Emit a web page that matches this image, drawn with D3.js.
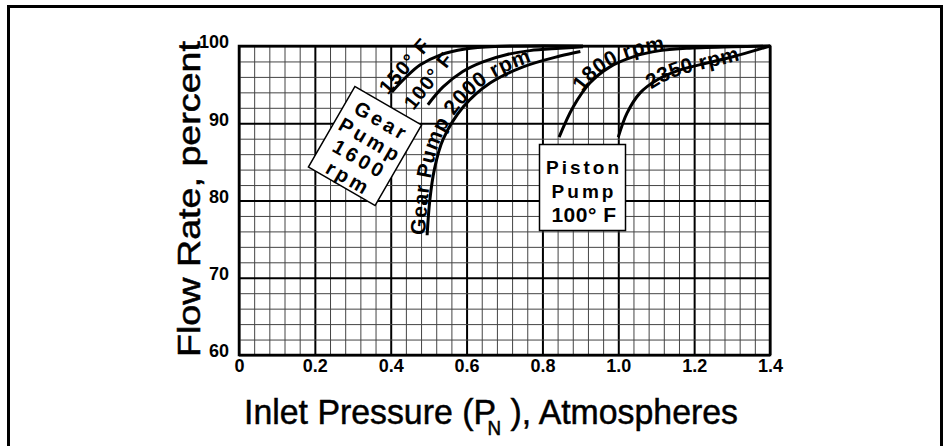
<!DOCTYPE html>
<html><head><meta charset="utf-8">
<script src="https://cdn.jsdelivr.net/npm/d3@7"></script>
<style>body{margin:0;background:#fff} svg{display:block}</style>
</head><body>
<svg id="c" width="946" height="446"></svg>
<script>
// ---- data ----
const xTickValues = [0, 0.2, 0.4, 0.6, 0.8, 1.0, 1.2, 1.4];
const xTickLabels = ["0", "0.2", "0.4", "0.6", "0.8", "1.0", "1.2", "1.4"];
const yTickValues = [60, 70, 80, 90, 100];
const yTickLabels = ["60", "70", "80", "90", "100"];

const gear150X = [0.403, 0.438, 0.477, 0.530, 0.596, 0.675, 0.907];
const gear150Y = [94.05, 95.86, 97.54, 98.83, 99.61, 99.94, 100];
const gear100X = [0.498, 0.538, 0.590, 0.643, 0.707, 0.767, 0.846, 0.907];
const gear100Y = [92.4, 94.7, 96.7, 97.95, 98.9, 99.4, 99.7, 99.9];
const gear2000X = [0.496, 0.503, 0.515, 0.538, 0.591, 0.662, 0.749, 0.846, 0.90];
const gear2000Y = [75.5, 80.0, 84.0, 87.9, 92.1, 95.2, 97.3, 98.7, 99.3];
const piston1800X = [0.844, 0.881, 0.925, 0.978, 1.039, 1.11, 1.18, 1.30, 1.40];
const piston1800Y = [88.2, 92.1, 95.2, 97.3, 98.6, 99.4, 99.7, 99.9, 100];
const piston2350X = [1.00, 1.023, 1.057, 1.102, 1.163, 1.234, 1.302, 1.40];
const piston2350Y = [88.2, 91.3, 93.9, 95.6, 96.9, 97.8, 98.6, 100];

const curveLabels = ["150° F", "100° F", "Gear Pump 2000 rpm", "1800 rpm", "2350 rpm"];
const gearBoxLines = ["Gear", "Pump", "1600", "rpm"];
const pistonBoxLines = ["Piston", "Pump", "100° F"];

// ---- layout ----
const W = 946, H = 446;
const X0 = 239, X1 = 770, Y0 = 46, Y1 = 355;
const FONT = "'Liberation Sans', Arial, Helvetica, sans-serif";

const svg = d3.select("#c");
svg.append("rect").attr("width", W).attr("height", H).attr("fill", "#fff");
svg.append("rect").attr("x", 8.5).attr("y", 6.5).attr("width", 933).attr("height", 480)
  .attr("fill", "none").attr("stroke", "#000").attr("stroke-width", 3);

const x = d3.scaleLinear().domain([0, 1.4]).range([X0, X1]);
const y = d3.scaleLinear().domain([60, 100]).range([Y1, Y0]);

const minorX = d3.range(0, 36).map(i => +(i * 0.04).toFixed(2));
const minorY = d3.range(0, 21).map(i => 60 + i * 2);

// vertical grid
const gx = svg.append("g").attr("transform", `translate(0,${Y1})`)
  .call(d3.axisBottom(x).tickValues(minorX).tickSize(-(Y1 - Y0)).tickFormat(""));
gx.select(".domain").remove();
gx.selectAll(".tick line")
  .attr("stroke", (d, i) => i % 5 === 0 ? "#000" : "#444")
  .attr("stroke-width", (d, i) => i % 5 === 0 ? 2 : 1);
// horizontal grid
const gy = svg.append("g").attr("transform", `translate(${X0},0)`)
  .call(d3.axisLeft(y).tickValues(minorY).tickSize(-(X1 - X0)).tickFormat(""));
gy.select(".domain").remove();
gy.selectAll(".tick line")
  .attr("stroke", (d, i) => i % 5 === 0 ? "#000" : "#444")
  .attr("stroke-width", (d, i) => i % 5 === 0 ? 2 : 1);

// frame
svg.append("rect").attr("x", X0).attr("y", Y0).attr("width", X1 - X0).attr("height", Y1 - Y0)
  .attr("fill", "none").attr("stroke", "#000").attr("stroke-width", 2.5);

// tick labels
const ax = svg.append("g").attr("transform", `translate(0,${Y1})`)
  .call(d3.axisBottom(x).tickValues(xTickValues).tickSize(0).tickPadding(3)
    .tickFormat((d, i) => xTickLabels[i]));
ax.select(".domain").remove();
ax.selectAll("text").attr("font-family", FONT).attr("font-size", 18).attr("font-weight", "bold")
  .attr("fill", "#000").attr("dy", "0.75em");

const ay = svg.append("g").attr("transform", `translate(${X0},0)`)
  .call(d3.axisLeft(y).tickValues(yTickValues).tickSize(0).tickPadding(10)
    .tickFormat((d, i) => yTickLabels[i]));
ay.select(".domain").remove();
ay.selectAll("text").attr("font-family", FONT).attr("font-size", 18).attr("font-weight", "bold")
  .attr("fill", "#000").attr("dy", "0.1em");

// axis titles
svg.append("text").attr("transform", "translate(200,199) rotate(-90)")
  .attr("text-anchor", "middle").attr("font-family", FONT).attr("font-size", 31)
  .attr("stroke", "#000").attr("stroke-width", 0.5)
  .attr("textLength", 316).attr("lengthAdjust", "spacingAndGlyphs")
  .text("Flow Rate, percent");

const xt = svg.append("text").attr("transform", "translate(491,424) scale(0.94,1)")
  .attr("text-anchor", "middle").attr("font-family", FONT).attr("font-size", 36)
  .attr("stroke", "#000").attr("stroke-width", 0.5);
xt.append("tspan").text("Inlet Pressure (P");
xt.append("tspan").attr("font-size", 20).attr("dx", -9).attr("dy", 11).text("N");
xt.append("tspan").attr("dy", -11).text("  ), Atmospheres");

// curves
const line = d3.line().x(d => x(d[0])).y(d => y(d[1])).curve(d3.curveCatmullRom.alpha(0.5));
const series = [
  {id: "g150", xs: gear150X, ys: gear150Y},
  {id: "g100", xs: gear100X, ys: gear100Y},
  {id: "g2000", xs: gear2000X, ys: gear2000Y},
  {id: "p1800", xs: piston1800X, ys: piston1800Y},
  {id: "p2350", xs: piston2350X, ys: piston2350Y}
];
series.forEach(s => {
  svg.append("path").attr("id", s.id).attr("d", line(s.xs.map((v, i) => [v, s.ys[i]])))
    .attr("fill", "none").attr("stroke", "#000").attr("stroke-width", 3);
});

function offsetAtX(id, xv) {
  const p = document.getElementById(id);
  const L = p.getTotalLength();
  let lo = 0, hi = L;
  const tx = x(xv);
  for (let k = 0; k < 40; k++) {
    const m = (lo + hi) / 2;
    if (p.getPointAtLength(m).x < tx) lo = m; else hi = m;
  }
  return lo;
}

// straight labels tangent to the start of the temperature curves
const straightLabels = [
  {text: curveLabels[0], px: 0.393, py: 93.6, rot: -49},
  {text: curveLabels[1], px: 0.460, py: 91.6, rot: -52}
];
straightLabels.forEach(l => {
  svg.append("text")
    .attr("transform", `translate(${x(l.px)},${y(l.py)}) rotate(${l.rot})`)
    .attr("font-family", FONT).attr("font-size", 20).attr("font-weight", "bold")
    .attr("letter-spacing", 1.2).attr("xml:space", "preserve").text(l.text);
});

const labelSpecs = [
  {id: "g2000", text: curveLabels[2], at: 0.496, dy: -2, size: 21, ls: 0.5},
  {id: "p1800", text: curveLabels[3], at: 0.905, dy: 0, size: 21, ls: 0.5},
  {id: "p2350", text: curveLabels[4], at: 1.08, dy: 5, size: 21, ls: 0.5}
];
labelSpecs.forEach(l => {
  svg.append("text").attr("font-family", FONT).attr("font-size", l.size).attr("font-weight", "bold")
    .attr("dy", l.dy).attr("letter-spacing", l.ls)
    .append("textPath").attr("href", "#" + l.id).attr("startOffset", offsetAtX(l.id, l.at))
    .text(l.text);
});

// Gear pump box
const gb = svg.append("g").attr("transform", "translate(365,146) rotate(30)");
gb.append("rect").attr("x", -38.5).attr("y", -46.5).attr("width", 77).attr("height", 93)
  .attr("fill", "#fff").attr("stroke", "#000").attr("stroke-width", 1.5);
gb.selectAll("text").data(gearBoxLines).join("text")
  .attr("x", 2).attr("y", (d, i) => -30 + i * 22)
  .attr("text-anchor", "middle").attr("dominant-baseline", "central")
  .attr("font-family", FONT).attr("font-size", 20).attr("font-weight", "bold")
  .attr("letter-spacing", 3.5).text(d => d);

// Piston pump box
const pb = svg.append("g");
pb.append("rect").attr("x", 539.5).attr("y", 144.5).attr("width", 86).attr("height", 86)
  .attr("fill", "#fff").attr("stroke", "#000").attr("stroke-width", 1.5);
pb.selectAll("text").data(pistonBoxLines).join("text")
  .attr("x", 584).attr("y", (d, i) => 174 + i * 24)
  .attr("text-anchor", "middle")
  .attr("font-family", FONT).attr("font-size", (d, i) => i === 2 ? 21 : 19)
  .attr("font-weight", "bold")
  .attr("letter-spacing", (d, i) => i === 2 ? 0.5 : 3).text(d => d);
</script>
</body></html>
